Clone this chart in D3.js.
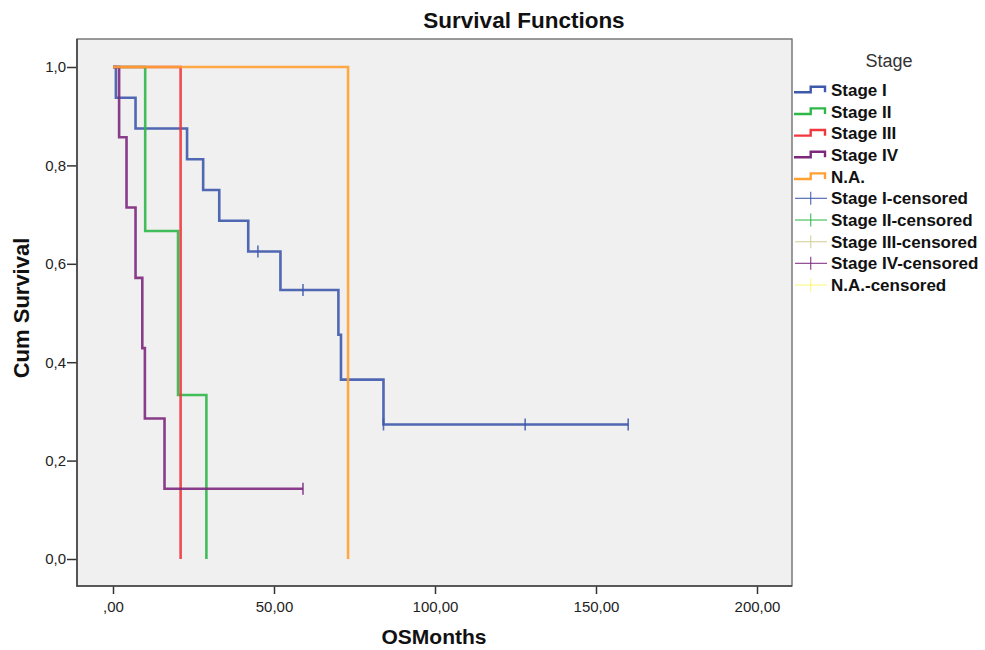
<!DOCTYPE html>
<html>
<head>
<meta charset="utf-8">
<script src="https://cdn.jsdelivr.net/npm/d3@7"></script>
<style>
  html, body { margin: 0; padding: 0; background: #fff; }
  svg { display: block; font-family: "Liberation Sans", Arial, sans-serif; }
</style>
</head>
<body>
<svg id="chart" width="985" height="650"></svg>
<script>
// Kaplan-Meier survival by stage (OS in months)
const groupNames = ["Stage I", "Stage II", "Stage III", "Stage IV", "N.A."];
const lineColors = ["#3E58AC", "#2EB848", "#F0393E", "#7C287D", "#FFA033"];
const censorNames = ["Stage I-censored", "Stage II-censored", "Stage III-censored", "Stage IV-censored", "N.A.-censored"];
const censorColors = ["#3E58AC", "#2EB848", "#D3CE97", "#7C287D", "#FBF873"];

// step points: event time and survival after that time
const stageITime = [0, 0.9, 7, 23, 28, 33, 42, 52, 70, 70.8, 84, 160];
const stageISurv = [1, 0.9375, 0.875, 0.8125, 0.75, 0.6875, 0.625, 0.5469, 0.4557, 0.3646, 0.2734, 0.2734];
const stageIITime = [0, 10, 20.2, 29];
const stageIISurv = [1, 0.6667, 0.3333, 0];
const stageIIITime = [0, 21];
const stageIIISurv = [1, 0];
const stageIVTime = [0, 1.9, 4.2, 7, 9.1, 9.9, 16, 59];
const stageIVSurv = [1, 0.8571, 0.7143, 0.5714, 0.4286, 0.2857, 0.1429, 0.1429];
const naTime = [0, 73];
const naSurv = [1, 0];

// censored observations
const stageICensorTime = [45, 59, 84, 128, 160];
const stageICensorSurv = [0.625, 0.5469, 0.2734, 0.2734, 0.2734];
const stageIVCensorTime = [59];
const stageIVCensorSurv = [0.1429];

const xTickValues = [0, 50, 100, 150, 200];
const xTickLabels = [",00", "50,00", "100,00", "150,00", "200,00"];
const yTickValues = [0, 0.2, 0.4, 0.6, 0.8, 1.0];
const yTickLabels = ["0,0", "0,2", "0,4", "0,6", "0,8", "1,0"];

const series = [
  { time: stageITime, surv: stageISurv, cT: stageICensorTime, cS: stageICensorSurv },
  { time: stageIITime, surv: stageIISurv, cT: [], cS: [] },
  { time: stageIIITime, surv: stageIIISurv, cT: [], cS: [] },
  { time: stageIVTime, surv: stageIVSurv, cT: stageIVCensorTime, cS: stageIVCensorSurv },
  { time: naTime, surv: naSurv, cT: [], cS: [] }
];

const svg = d3.select("#chart");
const frame = { left: 77, right: 792, top: 39, bottom: 586 };

const x = d3.scaleLinear().domain([0, 200]).range([113, 757]);
const y = d3.scaleLinear().domain([0, 1]).range([559, 67]);

// plot background
svg.append("rect")
  .attr("x", frame.left).attr("y", frame.top)
  .attr("width", frame.right - frame.left).attr("height", frame.bottom - frame.top)
  .attr("fill", "#F0F0F0");

// axes
const xAxis = svg.append("g")
  .attr("transform", `translate(0,${frame.bottom})`)
  .call(d3.axisBottom(x).tickValues(xTickValues)
    .tickFormat((d, i) => xTickLabels[i]).tickSize(8).tickPadding(7));
const yAxis = svg.append("g")
  .attr("transform", `translate(${frame.left},0)`)
  .call(d3.axisLeft(y).tickValues(yTickValues)
    .tickFormat((d, i) => yTickLabels[i]).tickSize(10).tickPadding(1));
[xAxis, yAxis].forEach(g => {
  g.select(".domain").remove();
  g.selectAll(".tick line").attr("stroke", "#333").attr("stroke-width", 1.5);
  g.selectAll(".tick text").attr("fill", "#222").style("font-size", "15px")
    .style("font-family", "\"Liberation Sans\", Arial, sans-serif");
});

// frame border
svg.append("rect")
  .attr("x", frame.left).attr("y", frame.top)
  .attr("width", frame.right - frame.left).attr("height", frame.bottom - frame.top)
  .attr("fill", "none").attr("stroke", "#666").attr("stroke-width", 1.3);
svg.append("path")
  .attr("d", `M${frame.left},${frame.top}V${frame.bottom}H${frame.right}`)
  .attr("fill", "none").attr("stroke", "#444").attr("stroke-width", 1.6);

// survival step curves
const line = d3.line()
  .x(d => x(d[0])).y(d => y(d[1]))
  .curve(d3.curveStepAfter);

const plot = svg.append("g");
series.forEach((s, i) => {
  const pts = s.time.map((t, k) => [t, s.surv[k]]);
  plot.append("path")
    .datum(pts)
    .attr("d", line)
    .attr("fill", "none")
    .attr("stroke", lineColors[i])
    .attr("stroke-width", 2.6)
    .attr("stroke-opacity", 0.9);
  s.cT.forEach((t, k) => {
    plot.append("line")
      .attr("x1", x(t)).attr("x2", x(t))
      .attr("y1", y(s.cS[k]) - 6).attr("y2", y(s.cS[k]) + 6)
      .attr("stroke", lineColors[i]).attr("stroke-width", 1.6)
      .attr("stroke-opacity", 0.85);
  });
});

// titles
svg.append("text")
  .attr("x", 524).attr("y", 28)
  .attr("text-anchor", "middle")
  .style("font-size", "22.5px").style("font-weight", "bold")
  .attr("fill", "#111")
  .text("Survival Functions");

svg.append("text")
  .attr("x", 434).attr("y", 644)
  .attr("text-anchor", "middle")
  .style("font-size", "21px").style("font-weight", "bold")
  .attr("fill", "#111")
  .text("OSMonths");

svg.append("text")
  .attr("transform", "translate(28.5,308) rotate(-90)")
  .attr("text-anchor", "middle")
  .style("font-size", "22px").style("font-weight", "bold")
  .attr("fill", "#111")
  .text("Cum Survival");

// legend
const legend = svg.append("g");
legend.append("text")
  .attr("x", 889).attr("y", 66.5)
  .attr("text-anchor", "middle")
  .style("font-size", "18px")
  .attr("fill", "#333")
  .text("Stage");

const rowStart = 90, rowStep = 21.67;
groupNames.forEach((name, i) => {
  const cy = rowStart + i * rowStep;
  legend.append("path")
    .attr("d", `M794,${cy + 2.3}H810.7V${cy - 3.3}H825V${cy + 2.3}`)
    .attr("fill", "none").attr("stroke", lineColors[i]).attr("stroke-width", 2.4);
  legend.append("text")
    .attr("x", 831).attr("y", cy).attr("dy", "0.36em")
    .style("font-size", "17px").style("font-weight", "bold")
    .attr("fill", "#111")
    .text(name);
});
censorNames.forEach((name, i) => {
  const cy = rowStart + (i + groupNames.length) * rowStep;
  legend.append("line")
    .attr("x1", 795).attr("x2", 827).attr("y1", cy).attr("y2", cy)
    .attr("stroke", censorColors[i]).attr("stroke-width", 1.3).attr("stroke-opacity", 0.8);
  legend.append("line")
    .attr("x1", 810.7).attr("x2", 810.7).attr("y1", cy - 6.5).attr("y2", cy + 6.5)
    .attr("stroke", censorColors[i]).attr("stroke-width", 1.3).attr("stroke-opacity", 0.8);
  legend.append("text")
    .attr("x", 831).attr("y", cy).attr("dy", "0.36em")
    .style("font-size", "17px").style("font-weight", "bold")
    .attr("fill", "#111")
    .text(name);
});
</script>
</body>
</html>
